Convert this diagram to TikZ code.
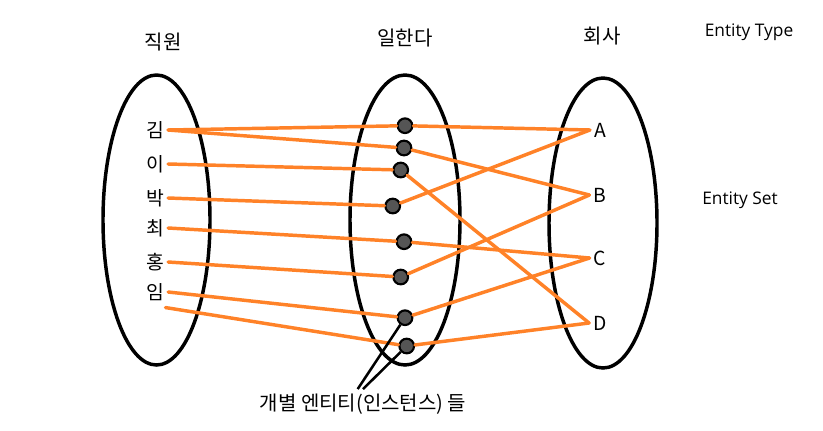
\documentclass[tikz,border=0pt]{standalone}
\usepackage{fontspec}
\setmainfont{Open Sans}
\newfontfamily\kor{Noto Sans CJK KR}
\usepackage{xcolor}
\usepackage{tikz}
\usetikzlibrary{positioning}

\definecolor{linkorange}{RGB}{255,130,40}
\definecolor{dotgray}{RGB}{85,85,85}

\begin{document}
\begin{tikzpicture}[
    x=0.75pt, y=0.75pt,
    title/.style={font=\kor\fontsize{15}{18}\selectfont},
    tag/.style={font=\fontsize{13}{16}\selectfont},
    item/.style={font=\kor\fontsize{14.5}{17}\selectfont, inner sep=3pt},
    inst/.style={circle, draw=black, line width=1.6pt, fill=dotgray, minimum size=11pt, inner sep=0pt},
    set/.style={line width=2.6pt},
    rel/.style={draw=linkorange, line width=2.6pt, line cap=round},
    ptr/.style={draw=black, line width=1.9pt}
]
    \useasboundingbox (0,0) rectangle (823,-430);

    \draw[set] (156.5,-220) ellipse (53.5 and 145);
    \draw[set] (405,-220) ellipse (55 and 145);
    \draw[set] (603,-223) ellipse (54 and 145);

    \node[title] (emp)  at (163,-42) {직원};
    \node[title] (work) at (405,-38) {일한다};
    \node[title] (comp) at (602,-36) {회사};
    \node[tag] (etype) at (749,-32) {Entity Type};
    \node[tag] (eset)  at (740,-200) {Entity Set};

    \node[item] (kim)  at (155,-130) {김};
    \node[item] (lee)  at (155,-164) {이};
    \node[item] (park) at (155,-198) {박};
    \node[item] (choi) at (155,-228) {최};
    \node[item] (hong) at (155,-262) {홍};
    \node[item] (lim)  at (155,-292) {임};

    \node[item] (ca) at (600,-130) {A};
    \node[item] (cb) at (600,-195) {B};
    \node[item] (cc) at (600,-258) {C};
    \node[item] (cd) at (600,-323) {D};

    \node[inst] (d1) at (405,-125.7) {};
    \node[inst] (d2) at (404,-148) {};
    \node[inst] (d3) at (400.7,-170) {};
    \node[inst] (d4) at (392.7,-206) {};
    \node[inst] (d5) at (404,-241.7) {};
    \node[inst] (d6) at (400.7,-277) {};
    \node[inst] (d7) at (405,-317.7) {};
    \node[inst] (d8) at (406.7,-346) {};

    \node[title] (note) at (363,-404) {개별 엔티티(인스턴스) 들};

    \draw[rel] (kim.east)  -- (d1);
    \draw[rel] (kim.east)  -- (d2);
    \draw[rel] (lee.east)  -- (d3);
    \draw[rel] (park.east) -- (d4);
    \draw[rel] (choi.east) -- (d5);
    \draw[rel] (hong.east) -- (d6);
    \draw[rel] (lim.east)  -- (d7);
    \draw[rel] ([xshift=-2pt,yshift=-2pt]lim.south east) -- (d8);

    \draw[rel] (d1) -- (ca.west);
    \draw[rel] (d2) -- (cb.west);
    \draw[rel] (d3) -- (cd.west);
    \draw[rel] (d4) -- (ca.west);
    \draw[rel] (d5) -- (cc.west);
    \draw[rel] (d6) -- (cb.west);
    \draw[rel] (d7) -- (cc.west);
    \draw[rel] (d8) -- (cd.west);

    \draw[ptr] ([xshift=-4pt]note.north) -- (d7);
    \draw[ptr] (note.north) -- (d8);
\end{tikzpicture}
\end{document}
